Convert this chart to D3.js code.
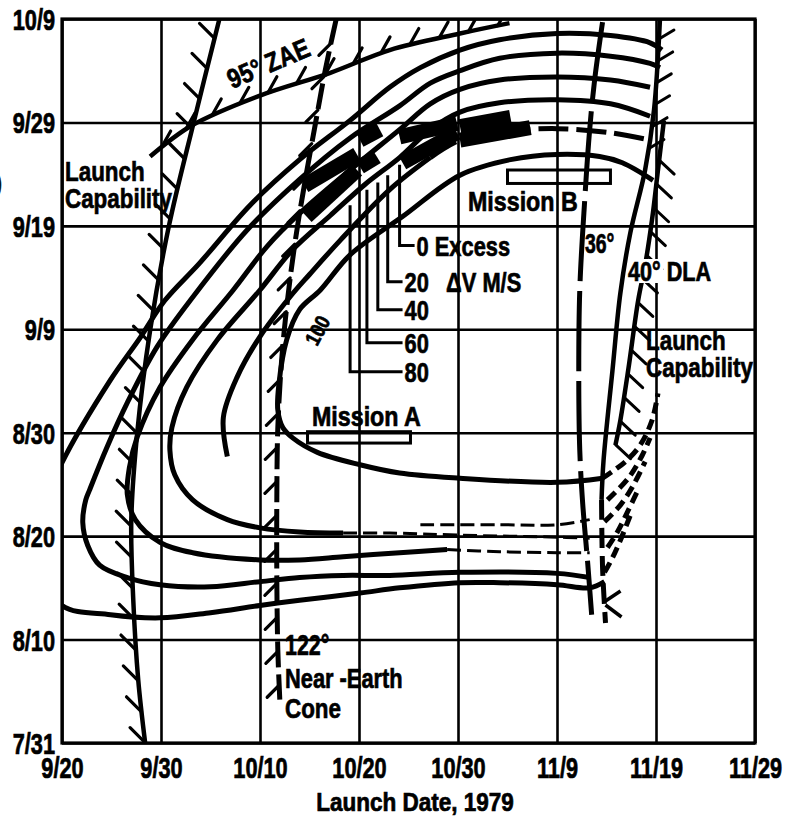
<!DOCTYPE html>
<html>
<head>
<meta charset="utf-8">
<script src="https://cdn.jsdelivr.net/npm/d3@7"></script>
<style>
  body { margin: 0; background: #fff; }
  text { font-family: "Liberation Sans", Arial, sans-serif; font-weight: bold; fill: #000; stroke: #000; stroke-width: 0.7px; }
</style>
</head>
<body>
<svg id="chart" width="787" height="819"></svg>
<script>
// Launch date (days after 9/20/1979) versus arrival date (days after 7/31).
const xTickLabels = ["9/20", "9/30", "10/10", "10/20", "10/30", "11/9", "11/19", "11/29"];
const yTickLabels = ["7/31", "8/10", "8/20", "8/30", "9/9", "9/19", "9/29", "10/9"];
const tickDays = [0, 10, 20, 30, 40, 50, 60, 70];

// Excess-velocity contours, [launch day, arrival day]
const contourOuter = [[54.8,15.6],[53.3,15.0],[50.0,15.3],[44.2,15.5],[40.2,15.5],[34.1,15.0],[30.1,14.5],[24.0,13.8],[20.0,13.3],[15.0,12.6],[9.9,12.1],[4.9,12.4],[0,13.3],[-2.0,17.0],[-2.2,22.0],[0,27.1],[4.9,35.1],[7.9,39.2],[10.4,42.8],[13.9,46.4],[19.0,52.0],[24.0,56.4],[29.1,60.2],[33.1,63.4],[36.2,65.3],[40.2,67.0],[44.2,68.0],[50.0,68.6],[55.4,68.4],[59.4,67.7],[60.6,67.0]];
const contourB = [[53.3,16.0],[50.0,16.4],[40.2,16.5],[33.1,16.2],[28.4,16.2],[24.0,16.0],[20.0,15.6],[15.0,15.1],[9.9,15.3],[6.6,16.0],[3.8,17.2],[2.6,19.1],[2.1,21.3],[2.4,23.5],[2.8,24.5],[4.5,28.5],[6.6,32.9],[9.6,38.3],[13.2,43.1],[18.7,49.6],[24.0,54.5],[29.1,58.5],[34.1,61.6],[37.2,63.8],[40.2,65.0],[44.2,66.2],[50.0,66.7],[55.4,66.4],[59.4,65.7],[60.4,65.3]];
const contourC = [[38.9,18.7],[34.1,18.4],[28.4,18.0],[24.0,17.7],[20.0,17.7],[13.2,18.4],[9.9,19.4],[7.4,21.6],[6.6,24.0],[6.8,26.6],[7.6,29.6],[9.9,34.4],[13.2,39.0],[17.3,43.8],[20.7,48.0],[24.0,51.2],[29.1,55.4],[34.1,59.3],[37.2,61.8],[40.2,63.2],[44.2,64.1],[50.0,64.4],[55.4,64.1],[59.4,63.4]];
const contourD = [[28.4,20.3],[24.0,20.4],[20.0,20.8],[16.7,21.6],[13.2,23.5],[11.4,25.9],[10.9,28.3],[11.1,30.5],[12.6,34.4],[15.7,39.0],[20.0,43.8],[23.3,47.7],[27.1,51.0],[30.6,54.0],[34.1,56.6],[37.2,59.3],[40.2,61.0],[44.2,61.9],[50.0,62.2],[55.4,61.8],[59.4,60.6]];
const contourE = [[16.7,27.7],[16.3,31.5],[17.7,35.4],[20.0,39.3],[23.0,43.1],[25.0,45.3],[28.1,48.6],[33.1,53.5],[37.2,56.6]];
const contourETop = [[37.2,56.6],[40.2,58.3],[44.2,59.1],[50.0,59.4],[55.4,59.0],[59.4,58.3]];
const contour100 = [[54.6,25.6],[50.0,25.2],[40.2,25.6],[34.1,26.1],[30.1,26.9],[25.8,28.1],[23.3,29.5],[22.3,30.5],[21.8,32.2],[21.9,34.6],[22.7,39.0],[24.0,41.9],[26.1,43.8],[29.1,47.2],[34.4,50.9],[40.2,54.9],[45.3,56.4],[50.0,56.9],[54.3,56.7],[56.6,56.1],[59.7,54.4]];

// Broken continuations of the lower branches toward the DLA limit
const fadedLower = [
  [[28.4,20.3],[33.1,20.3],[40.2,20.1],[50.0,19.9],[53.3,19.8]],
  [[38.9,18.7],[44.2,18.5],[50.0,18.4],[53.3,18.4]],
  [[36.2,21.1],[44.2,21.1],[50.0,21.1],[53.3,21.6]]
];
const fanCurves = [
  [[54.6,25.6],[56.9,27.2],[58.4,28.8],[59.6,31.2],[60.2,33.8]],
  [[55.1,23.5],[57.2,25.6],[58.6,27.8],[59.4,29.5]],
  [[54.8,21.4],[56.4,23.0],[57.7,24.9],[58.9,27.2]],
  [[55.1,18.9],[56.1,20.4],[57.2,22.5],[58.2,24.5]],
  [[54.8,16.5],[55.6,17.9],[56.4,19.6],[57.4,22.0]]
];

// Heavy band segments where the low-excess contours crowd together
const bandSegments = [
  [[24.5,53.9],[29.8,56.9]], [[30.1,58.3],[32.1,59.3]], [[34.1,58.6],[39.9,59.9]], [[40.2,59.6],[45.3,60.5]],
  [[24.7,50.9],[29.8,55.4]], [[30.1,55.7],[31.8,56.7]], [[34.4,56.1],[39.9,59.0]], [[40.2,58.3],[47.3,59.5]]
];

// Constraint boundaries
const launchCapLeft = [[15.9,70],[13.3,60.0],[10.8,50.0],[8.9,39.9],[7.6,30.0],[7.0,21.6],[7.2,13.8],[7.7,6.1],[8.4,0]];
const zae95 = [[8.9,56.7],[13.1,59.7],[20.0,62.6],[27.1,64.8],[33.1,67.0],[40.2,68.6],[45.2,69.6]];
const cone122 = [[27.7,70],[26.6,65.1],[25.6,59.9],[24.6,54.6],[23.6,48.8],[22.8,43.0],[22.2,37.2],[21.8,30.5],[21.7,23.7],[21.7,15.9],[21.8,9.0],[22.0,4.2]];
const dla36 = [[54.6,69.7],[53.8,64.1],[53.3,59.3],[52.8,52.5],[52.3,43.8],[52.2,35.1],[52.3,28.3],[52.6,23.1],[53.1,17.4],[53.5,12.4]];
const dla40 = [[60.4,70],[59.8,61.2],[58.9,55.4],[57.4,49.3],[56.4,43.5],[55.6,36.0],[54.7,27.3],[54.5,23.5]];
const dla40Lower = [[54.5,23.5],[54.6,17.0],[54.9,11.6]];
const launchCapRight = [[60.8,60.2],[60.2,55.4],[59.6,50.6],[58.9,46.2],[58.2,42.8],[57.2,36.1],[56.4,31.2],[55.9,28.8]];

// Mission windows [launch start, launch end, arrival low, arrival high]
const missionA = [24.8, 35.2, 29.0, 30.1];
const missionB = [45.0, 55.4, 54.1, 55.4];

// Level labels with their leaders: leader launch day, top of leader, label arrival day
const levelLabels = ["0 Excess", "20", "40", "60", "80"];
const leaderLaunch = [34.1, 32.9, 31.9, 30.8, 29.1];
const leaderTop = [55.9, 54.9, 54.2, 53.5, 52.0];
const leaderLabelDay = [48.1, 44.6, 41.9, 38.7, 35.9];

const svg = d3.select("#chart");
const x = d3.scaleLinear().domain([0, 70]).range([62, 755]);
const y = d3.scaleLinear().domain([0, 70]).range([743, 19]);
const plotW = x(70) - x(0), plotH = y(0) - y(70);

// Condensed bold lettering: a horizontally squeezed sans face
function label(parent, str, px, py, size, sx, opts = {}) {
  return parent.append("text")
    .attr("transform", `translate(${px},${py})${opts.rotate ? ` rotate(${opts.rotate})` : ""} scale(${sx},1)`)
    .attr("font-size", size).attr("text-anchor", opts.anchor || "start").text(str);
}

svg.append("defs").append("clipPath").attr("id", "plot")
  .append("rect").attr("x", x(0)).attr("y", y(70)).attr("width", plotW).attr("height", plotH);

// Grid and axes
const tickScale = 0.75;
const xAxis = d3.axisBottom(x).tickValues(tickDays).tickFormat((d, i) => xTickLabels[i])
  .tickSize(-plotH).tickPadding(14);
const yAxis = d3.axisLeft(y).tickValues(tickDays).tickFormat((d, i) => yTickLabels[i])
  .tickSize(-plotW).tickPadding(7);
const gx = svg.append("g").attr("transform", `translate(0,${y(0)})`).call(xAxis);
const gy = svg.append("g").attr("transform", `translate(${x(0)},0)`).call(yAxis);
[gx, gy].forEach(g => {
  g.select(".domain").remove();
  g.selectAll(".tick line").attr("stroke", "#000").attr("stroke-width", 2.6);
  g.selectAll(".tick text").attr("font-size", 29).attr("transform", `scale(${tickScale},1)`);
});
gx.selectAll(".tick text").attr("dy", "0.71em");
gy.selectAll(".tick text").attr("x", -7 / tickScale).attr("dy", "0.36em");
svg.append("rect").attr("x", x(0)).attr("y", y(70)).attr("width", plotW).attr("height", plotH)
  .attr("fill", "none").attr("stroke", "#000").attr("stroke-width", 3.2);

const line = d3.line().x(d => x(d[0])).y(d => y(d[1])).curve(d3.curveCatmullRom.alpha(0.5));
const plot = svg.append("g").attr("clip-path", "url(#plot)");

function drawPath(data, width, dash) {
  return plot.append("path").datum(data).attr("d", line)
    .attr("fill", "none").attr("stroke", "#000").attr("stroke-width", width)
    .attr("stroke-linecap", "butt").attr("stroke-linejoin", "round")
    .attr("stroke-dasharray", dash || null);
}

// Short hatch ticks along a boundary path
function hatch(pathSel, spacing, dx, dy, from, to, width) {
  const node = pathSel.node();
  const L = node.getTotalLength();
  const end = to == null ? L : Math.min(L, to);
  for (let s = from; s <= end; s += spacing) {
    const p = node.getPointAtLength(s);
    plot.append("line").attr("x1", p.x).attr("y1", p.y).attr("x2", p.x + dx).attr("y2", p.y + dy)
      .attr("stroke", "#000").attr("stroke-width", width || 3).attr("stroke-linecap", "round");
  }
}

// Contours
[contourOuter, contourB, contourC, contourD, contourE].forEach(c => drawPath(c, 5));
drawPath(contourETop, 5, "30,8");
drawPath(contour100, 5);
fadedLower.forEach(c => drawPath(c, 3, "14,6"));
fanCurves.forEach(c => drawPath(c, 5, "11,6"));
bandSegments.forEach(c => drawPath(c, 15));

// Boundaries with hatching
const lcl = drawPath(launchCapLeft, 4.5);
hatch(lcl, 31, -15, -15, 20, null, 3.2);
const zae = drawPath(zae95, 4.5);
hatch(zae, 30, 9, -16, 15, null, 3.2);
const cone = drawPath(cone122, 5, "26,7");
hatch(cone, 34, -12, 12, 25, 700, 3.2);
drawPath(dla36, 5, "80,10");
const d40 = drawPath(dla40, 4.5);
hatch(d40, 22, 15, -9, 20, 130, 3);
drawPath(dla40Lower, 5, "20,8");
const lcr = drawPath(launchCapRight, 4.5);
hatch(lcr, 24, 15, 14, 40, null, 3);
// closing ticks at the foot of the DLA limit
const foot = dla40Lower[dla40Lower.length - 1];
plot.append("line").attr("x1", x(foot[0])).attr("y1", y(foot[1]) - 22).attr("x2", x(foot[0]) + 15).attr("y2", y(foot[1]) - 32)
  .attr("stroke", "#000").attr("stroke-width", 3.5);
plot.append("line").attr("x1", x(foot[0])).attr("y1", y(foot[1]) - 18).attr("x2", x(foot[0]) + 16).attr("y2", y(foot[1]) - 6)
  .attr("stroke", "#000").attr("stroke-width", 3.5);

// Mission windows
[missionA, missionB].forEach(m => {
  plot.append("rect").attr("x", x(m[0])).attr("y", y(m[3]))
    .attr("width", x(m[1]) - x(m[0])).attr("height", y(m[2]) - y(m[3]))
    .attr("fill", "none").attr("stroke", "#000").attr("stroke-width", 3);
});

// Level leaders and labels
levelLabels.forEach((lab, i) => {
  const lx = x(leaderLaunch[i]), ly = y(leaderLabelDay[i]);
  const endX = i === 0 ? lx + 15 : x(34.4);
  svg.append("path").attr("d", `M${lx},${y(leaderTop[i])}V${ly}H${endX}`)
    .attr("fill", "none").attr("stroke", "#000").attr("stroke-width", 3);
  label(svg, lab, endX + 2, ly + 10, 28, 0.78);
});
label(svg, "ΔV  M/S", x(38.8), y(44.6) + 10, 28, 0.78);

// Annotations
label(svg, "Launch", 65, 181, 28, 0.8);
label(svg, "Capability", 65, 208, 28, 0.8);
label(svg, "Mission B", 468, 211, 28, 0.83);
label(svg, "Mission A", 312, 426, 28, 0.83);
label(svg, "36°", 585, 253, 27, 0.72);
// clear patch so the DLA label reads over the boundary lines
svg.append("rect").attr("x", 637).attr("y", 259).attr("width", 26).attr("height", 24).attr("fill", "#fff");
label(svg, "40° DLA", 628, 281, 27, 0.8);
label(svg, "Launch", 646, 350, 28, 0.8);
label(svg, "Capability", 646, 377, 28, 0.8);
label(svg, "122°", 285, 655, 29, 0.74);
label(svg, "Near -Earth", 285, 688, 28, 0.78);
label(svg, "Cone", 285, 718, 28, 0.8);
label(svg, "Launch Date, 1979", 415, 811, 25, 0.9, { anchor: "middle" });
label(svg, ")", -5, 192, 26, 0.8);
label(svg, "95° ZAE", 232, 89, 27, 0.85, { rotate: -23 });
label(svg, "100", 317, 347, 21, 0.85, { rotate: -62 });
</script>
</body>
</html>
